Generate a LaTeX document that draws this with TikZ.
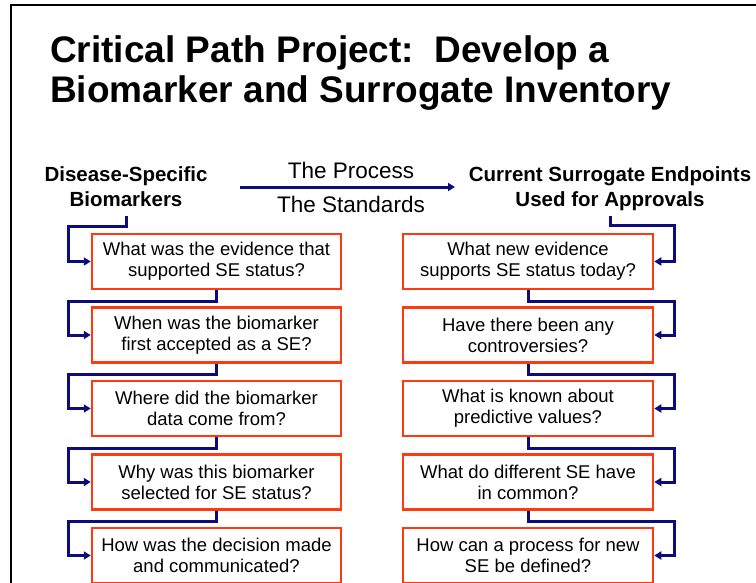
\documentclass[tikz,border=0pt]{standalone}
\usepackage{fontspec}
\setmainfont{Liberation Sans}
\usetikzlibrary{arrows.meta}
\definecolor{navyline}{RGB}{12,12,122}
\definecolor{boxred}{RGB}{255,58,16}
\begin{document}
\begin{tikzpicture}[x=1pt,y=-1pt,
  frame/.style={draw=black,line width=2pt},
  titletext/.style={anchor=base west,inner sep=0pt,font=\fontsize{37}{40}\selectfont\bfseries},
  headtext/.style={anchor=south,align=center,inner xsep=0pt,font=\fontsize{20.5}{25}\selectfont\bfseries},
  labeltext/.style={anchor=base,inner sep=0pt,font=\fontsize{22.5}{27}\selectfont},
  qbox/.style={draw=boxred,line width=2.5pt,fill=white,minimum width=249pt,minimum height=55pt,
    align=center,inner sep=0pt,font=\fontsize{18.5}{21}\selectfont},
  conn/.style={draw=navyline,line width=3pt,-{Triangle[length=7pt,width=8pt]}},
]
\useasboundingbox (0,0) rectangle (756,582);
\draw[frame] (11,590) -- (11,5) -- (760,5);

\node[titletext] (t1) at (50,62) {Critical Path Project:\ \ Develop a};
\node[titletext] (t2) at (50,102) {Biomarker and Surrogate Inventory};

\node[headtext,inner ysep=9pt] (lh) at (126,216) {Disease-Specific\\Biomarkers};
\node[headtext,inner ysep=5pt] (rh) at (610,216) {Current Surrogate Endpoints\\Used for Approvals};

\coordinate (a1) at (240,187);
\coordinate (a2) at (455,187);
\draw[conn] (a1) -- (a2);
\node[labeltext] (proc) at (351,178) {The Process};
\node[labeltext] (std) at (351,212) {The Standards};

\node[qbox] (L1) at (216.5,261.5) {What was the evidence that\\supported SE status?};
\node[qbox] (L2) at (216.5,335) {When was the biomarker\\first accepted as a SE?};
\node[qbox] (L3) at (216.5,408.5) {Where did the biomarker\\data come from?};
\node[qbox] (L4) at (216.5,482) {Why was this biomarker\\selected for SE status?};
\node[qbox] (L5) at (216.5,555.5) {How was the decision made\\and communicated?};

\node[qbox,minimum width=250pt] (R1) at (528,261.5) {What new evidence\\supports SE status today?};
\node[qbox,minimum width=250pt] (R2) at (528,335) {Have there been any\\controversies?};
\node[qbox,minimum width=250pt] (R3) at (528,408.5) {What is known about\\predictive values?};
\node[qbox,minimum width=250pt] (R4) at (528,482) {What do different SE have\\in common?};
\node[qbox,minimum width=250pt] (R5) at (528,555.5) {How can a process for new\\SE be defined?};

\draw[conn] (lh.south) -- ++(0,10) -| ([xshift=-22pt]L1.west) -- (L1.west);
\draw[conn] (L1.south) -- ++(0,11) -| ([xshift=-22pt]L2.west) -- (L2.west);
\draw[conn] (L2.south) -- ++(0,11) -| ([xshift=-22pt]L3.west) -- (L3.west);
\draw[conn] (L3.south) -- ++(0,11) -| ([xshift=-22pt]L4.west) -- (L4.west);
\draw[conn] (L4.south) -- ++(0,11) -| ([xshift=-22pt]L5.west) -- (L5.west);

\draw[conn] (rh.south) -- ++(0,9) -| ([xshift=20pt]R1.east) -- (R1.east);
\draw[conn] (R1.south) -- ++(0,11) -| ([xshift=20pt]R2.east) -- (R2.east);
\draw[conn] (R2.south) -- ++(0,11) -| ([xshift=20pt]R3.east) -- (R3.east);
\draw[conn] (R3.south) -- ++(0,11) -| ([xshift=20pt]R4.east) -- (R4.east);
\draw[conn] (R4.south) -- ++(0,11) -| ([xshift=20pt]R5.east) -- (R5.east);
\end{tikzpicture}
\end{document}
